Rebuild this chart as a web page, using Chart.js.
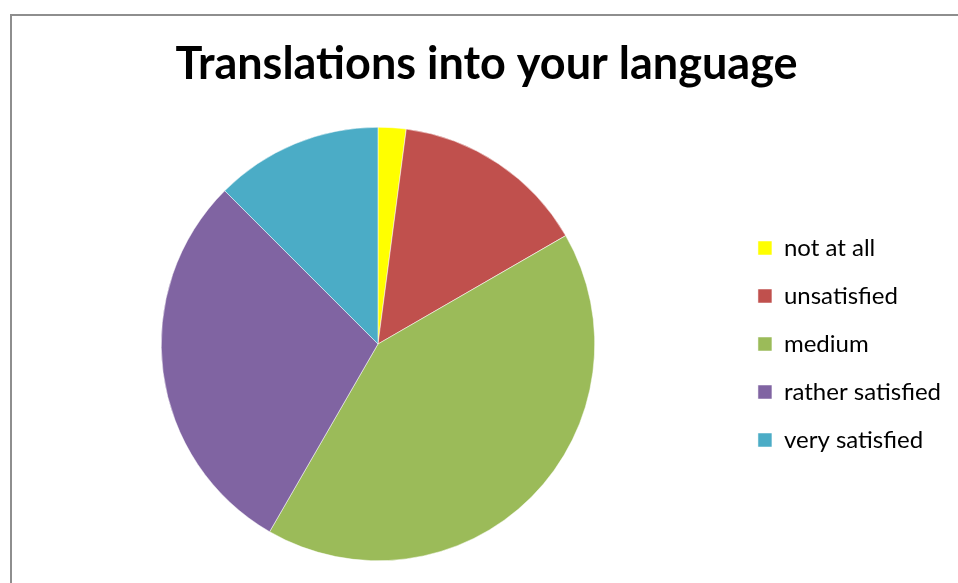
<!DOCTYPE html>
<html>
<head>
<meta charset="utf-8">
<script src="https://cdn.jsdelivr.net/npm/chart.js@4.4.1/dist/chart.umd.min.js"></script>
<style>
  html, body { margin: 0; padding: 0; background: #fff; overflow: hidden; }
  #frame {
    position: absolute; left: 10px; top: 14px; width: 1000px; height: 700px;
    border-left: 2px solid #8e8e8e; border-top: 2px solid #8e8e8e;
  }
  #wrap { position: absolute; left: 0; top: 0; width: 958px; height: 583px; }
</style>
</head>
<body>
<div id="frame"></div>
<div id="wrap"><canvas id="pieChart" width="958" height="583"></canvas></div>
<script>
// Survey answers: how good are translations into your language
const answers = ['not at all', 'unsatisfied', 'medium', 'rather satisfied', 'very satisfied'];
const responses = [1, 7, 20, 14, 6];
const sliceColors = ['#FFFF00', '#C0504D', '#9BBB59', '#8064A2', '#4BACC6'];

Chart.defaults.font.family = "Lato, 'Open Sans', sans-serif";
Chart.defaults.color = '#000';

const ctx = document.getElementById('pieChart');

new Chart(ctx, {
    type: 'pie',
    data: {
        labels: answers,
        datasets: [{
            data: responses,
            backgroundColor: sliceColors,
            borderColor: '#fff',
            borderWidth: 0.5
        }]
    },
    options: {
        responsive: false,
        animation: false,
        layout: {
            padding: { left: 22, right: 7, top: 0, bottom: 22 }
        },
        plugins: {
            title: {
                display: true,
                text: 'Translations into your language',
                font: { size: 45, weight: 'bold' },
                color: '#000',
                padding: { top: 37, bottom: 36 }
            },
            legend: {
                position: 'right',
                fullSize: false,
                labels: {
                    boxWidth: 14,
                    boxHeight: 14,
                    padding: 24,
                    color: '#000',
                    font: { size: 24 }
                }
            },
            tooltip: { enabled: false }
        }
    }
});
</script>
</body>
</html>
